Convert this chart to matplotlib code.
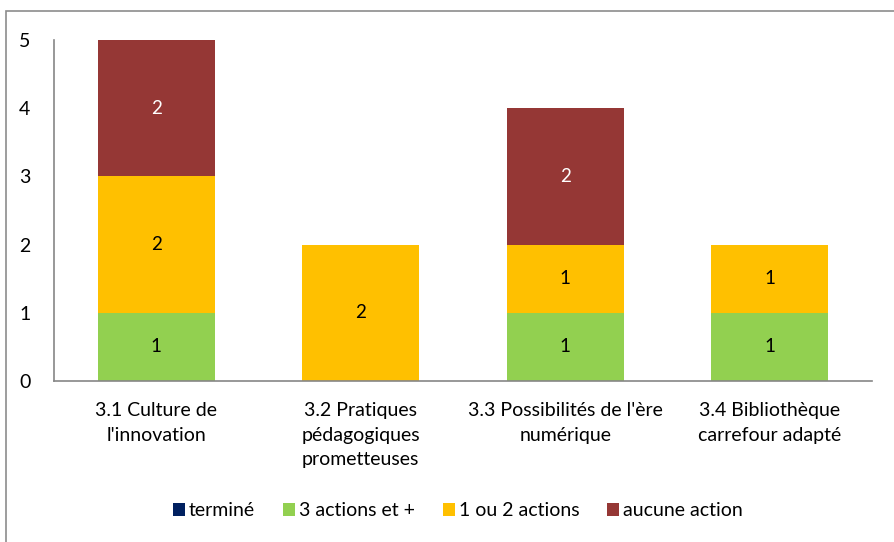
import matplotlib
matplotlib.use("Agg")
import matplotlib.pyplot as plt
from matplotlib.patches import Rectangle
import numpy as np

plt.rcParams["font.family"] = ["Lato", "DejaVu Sans"]

categories = ["3.1 Culture de\nl'innovation",
              "3.2 Pratiques\npédagogiques\nprometteuses",
              "3.3 Possibilités de l'ère\nnumérique",
              "3.4 Bibliothèque\ncarrefour adapté"]
series_names = ["terminé", "3 actions et +", "1 ou 2 actions", "aucune action"]
termine = [0, 0, 0, 0]
trois_plus = [1, 0, 1, 1]
un_deux = [2, 2, 1, 1]
aucune = [2, 0, 2, 0]
colors = ["#002060", "#92D050", "#FFC000", "#953735"]
label_colors = ["white", "black", "black", "white"]

fig = plt.figure(figsize=(8.94, 5.42), dpi=100)
# chart frame (the right and bottom edges fall outside the picture)
fig.patches.append(Rectangle((6 / 894, -0.1), 1.2, 1 - 11 / 542 + 0.1,
                             transform=fig.transFigure, fill=False,
                             edgecolor="#8c8c8c", lw=1.2))
ax = fig.add_axes([54 / 894, 161 / 542, 818 / 894, 341 / 542])

x = np.arange(len(categories))
bottom = np.zeros(len(categories))
for name, vals, col, lcol in zip(series_names,
                                 [termine, trois_plus, un_deux, aucune],
                                 colors, label_colors):
    vals = np.array(vals, dtype=float)
    ax.bar(x, vals, 0.57, bottom=bottom, color=col, label=name)
    for xi, b, v in zip(x, bottom, vals):
        if v > 0:
            ax.text(xi, b + v / 2, f"{v:g}", ha="center", va="center",
                    color=lcol, fontsize=13.5)
    bottom += vals

ax.set_xlim(-0.5, len(categories) - 0.5)
ax.set_ylim(0, 5)
ax.set_yticks(range(6))
ax.set_xticks(x)
ax.set_xticklabels(categories, fontsize=14, linespacing=1.55)
ax.tick_params(axis="y", length=0, pad=17, labelsize=14)
ax.tick_params(axis="x", length=0, pad=15)
for s in ["top", "right"]:
    ax.spines[s].set_visible(False)
for s in ["left", "bottom"]:
    ax.spines[s].set_color("#868686")
    ax.spines[s].set_linewidth(1.2)

ax.legend(loc="center", bbox_to_anchor=(458 / 894, 31 / 542),
          bbox_transform=fig.transFigure, ncol=4, frameon=False,
          fontsize=14, handlelength=0.6, handleheight=0.6,
          handletextpad=0.2, columnspacing=1.45)

fig.savefig("out.png", dpi=100)
